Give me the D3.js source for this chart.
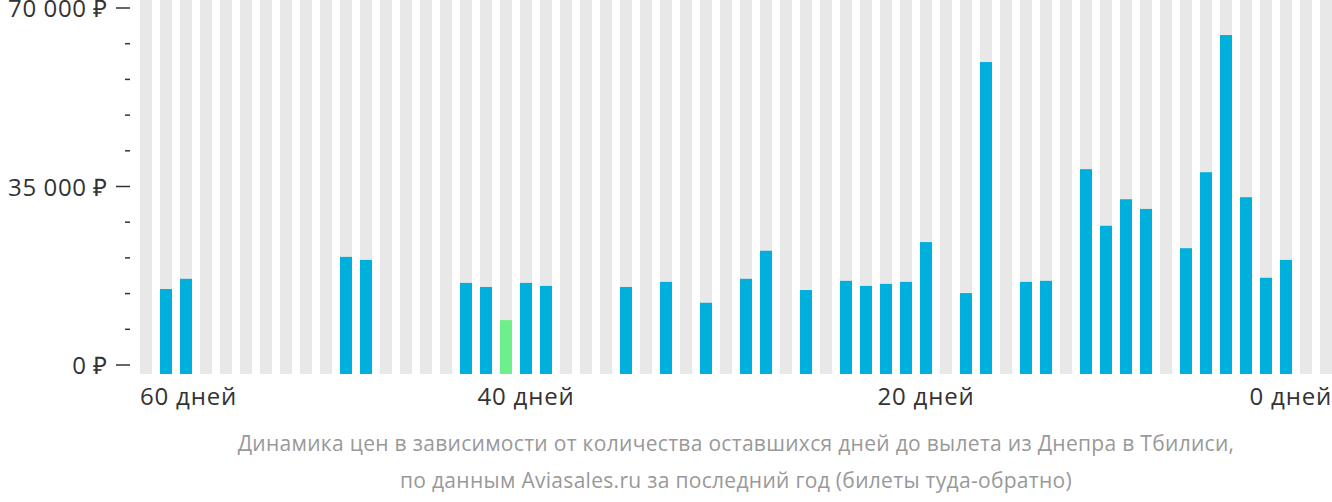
<!DOCTYPE html>
<html><head><meta charset="utf-8">
<script src="https://cdn.jsdelivr.net/npm/d3@7"></script>
<style>body{margin:0;background:#fff}svg{display:block;font-family:"Open Sans",sans-serif}</style>
</head><body><svg id="c" width="1332" height="502"></svg>
<script>
// slot index 0 = 60 days before departure … 59 = last slot
const slots = d3.range(60);
const priceSlots = [1,2,10,11,16,17,18,19,20,24,26,28,30,31,33,35,36,37,38,39,41,42,44,45,47,48,49,50,52,53,54,55,56,57];
const prices = [14900,16900,21200,20600,16100,15300,8800,16100,15500,15300,16300,12200,16900,22400,14700,16500,15500,15900,16300,24100,14100,59400,16300,16500,38400,27300,32500,30600,22900,37800,64700,32900,17100,20600];
const cheapestSlot = 18;
const xTickSlots = [0,19,39,59];
const xTickLabels = ["60 дней","40 дней","20 дней","0 дней"];
const yTicks = [0,35000,70000];
const yTickLabels = ["0 ₽","35 000 ₽","70 000 ₽"];
const caption = ["Динамика цен в зависимости от количества оставшихся дней до вылета из Днепра в Тбилиси,","по данным Aviasales.ru за последний год (билеты туда-обратно)"];

const svg = d3.select("#c");
const x = d3.scaleBand().domain(slots).range([140,1332]).paddingInner(0.4).paddingOuter(0);
const y = d3.scaleLinear().domain([0,70000]).range([365,8]);
const base = 374;

svg.append("g").selectAll("rect").data(slots).join("rect")
  .attr("x",d=>x(d)).attr("y",0).attr("width",x.bandwidth()).attr("height",base).attr("fill","#e8e8e8");
svg.append("g").selectAll("rect").data(priceSlots).join("rect")
  .attr("x",d=>x(d)).attr("y",(d,i)=>y(prices[i])).attr("width",x.bandwidth())
  .attr("height",(d,i)=>base-y(prices[i]))
  .attr("fill",d=>d===cheapestSlot?"#6def8a":"#00b0dc");

const minor = d3.range(0,70001,7000);
svg.append("g").selectAll("line").data(minor).join("line")
  .attr("x1",d=>d%35000===0?116:125).attr("x2",130).attr("y1",d=>y(d)).attr("y2",d=>y(d))
  .attr("stroke","#333").attr("stroke-width",1.5);
svg.append("g").selectAll("text").data(yTicks).join("text")
  .attr("x",108).attr("y",d=>y(d)+9).attr("text-anchor","end")
  .attr("font-size",24).attr("letter-spacing",0.6).attr("fill","#333").text((d,i)=>yTickLabels[i]);

svg.append("g").selectAll("text").data(xTickSlots).join("text")
  .attr("x",(d,i)=>i===0?140:i===3?1332:x(d)+6)
  .attr("text-anchor",(d,i)=>i===0?"start":i===3?"end":"middle")
  .attr("y",405).attr("font-size",24).attr("letter-spacing",0.8).attr("fill","#333").text((d,i)=>xTickLabels[i]);

svg.append("g").selectAll("text").data(caption).join("text")
  .attr("x",736).attr("y",(d,i)=>451+i*37).attr("text-anchor","middle")
  .attr("font-size",21).attr("letter-spacing",0.3).attr("fill","#999").text(d=>d);
</script></body></html>
